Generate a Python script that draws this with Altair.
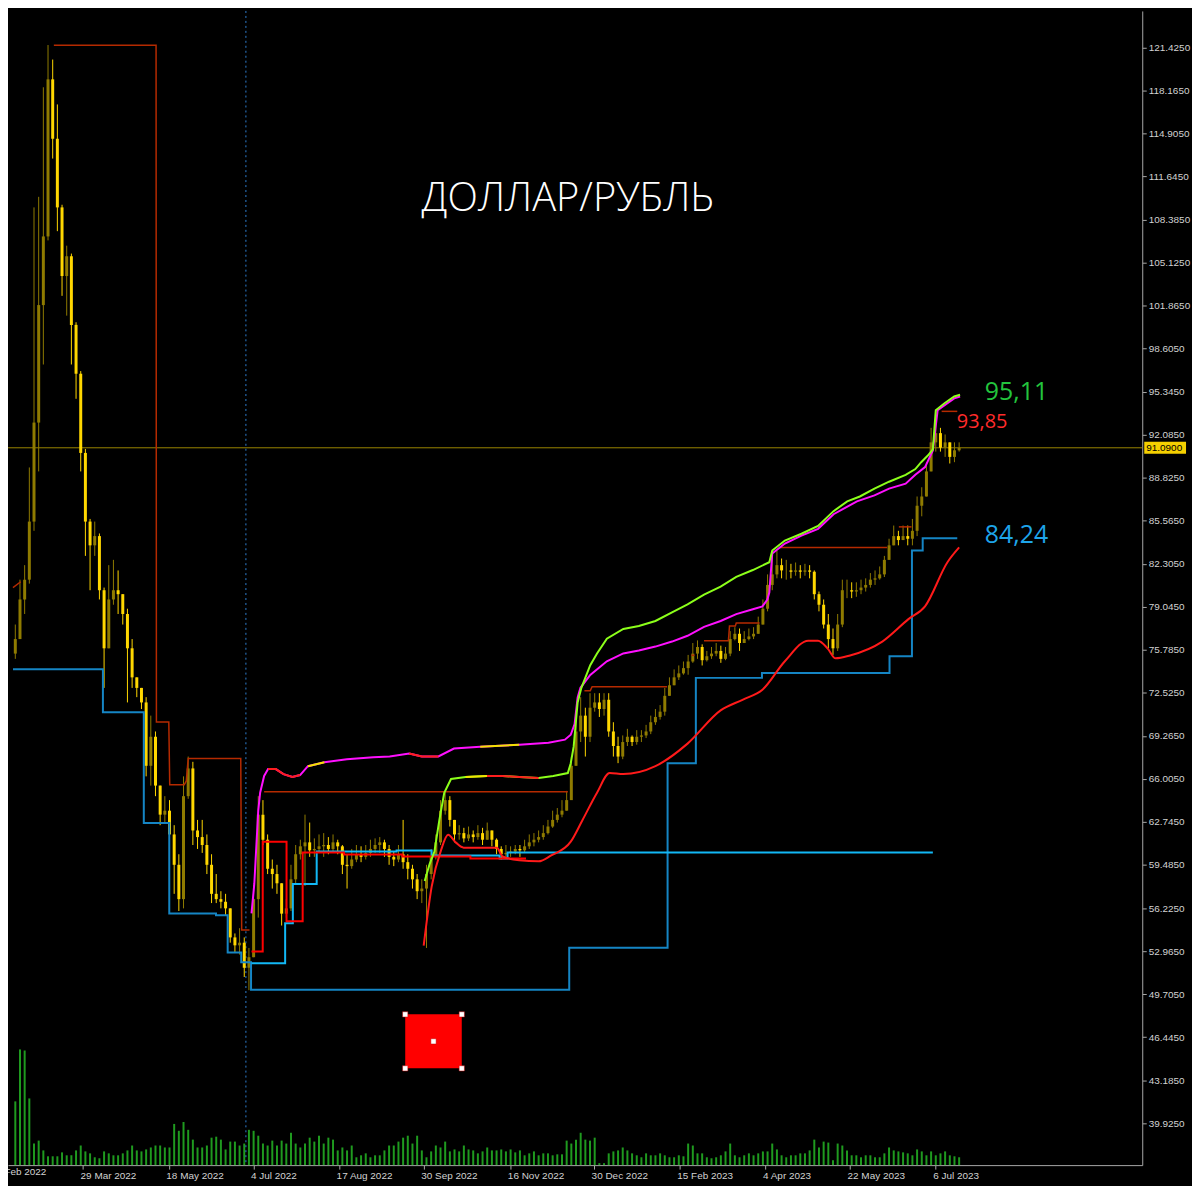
import json
import altair as alt
import pandas as pd

W, H = 1140, 1160

# ---------------- candles (one candle per two trading days) ----------------
first_open = 75.5
close = [76.6, 79.6, 81.1, 85.5, 93.0, 101.9, 107.1, 119.0, 114.5, 109.3,
         104.1, 105.6, 100.4, 96.7, 90.7, 85.5, 83.7, 84.4, 80.3, 75.9,
         79.6, 80.3, 80.0, 78.5, 75.9, 73.7, 72.9, 71.8, 67.0, 69.2,
         65.5, 63.3, 63.6, 61.8, 59.5, 56.9, 64.7, 66.8, 62.1, 61.6,
         61.0, 59.5, 57.3, 56.9, 56.7, 56.2, 54.0, 53.4, 53.6, 51.7,
         52.5, 56.9, 63.3, 61.4, 59.2, 58.8, 58.1, 55.8, 56.2, 58.4,
         60.3, 60.9, 61.2, 60.6, 60.7, 60.9, 61.0, 60.7, 61.2, 60.9,
         59.5, 59.4, 59.9, 60.3, 60.1, 60.4, 60.7, 61.0, 61.2, 60.7,
         60.1, 59.9, 60.3, 59.7, 59.2, 58.4, 57.5, 57.7, 58.8, 60.1,
         61.2, 63.6, 64.4, 62.9, 61.8, 61.9, 61.5, 61.8, 61.6, 61.9,
         61.4, 62.1, 61.4, 60.7, 60.3, 60.4, 60.5, 60.7, 60.6, 60.9,
         61.2, 61.4, 61.6, 61.9, 62.4, 62.9, 63.3, 63.6, 64.4, 67.0,
         69.6, 70.8, 69.2, 71.4, 71.8, 71.3, 72.0, 69.6, 68.5, 67.7,
         68.8, 69.2, 68.8, 69.2, 69.3, 69.6, 70.3, 70.7, 71.1, 72.3,
         73.1, 73.7, 74.0, 74.4, 74.9, 75.5, 76.0, 75.0, 75.3, 75.5,
         75.7, 75.1, 75.5, 76.6, 77.0, 76.3, 76.6, 76.8, 77.0, 77.7,
         78.9, 80.7, 81.5, 82.2, 81.8, 81.8, 81.7, 81.8, 81.7, 81.8,
         81.7, 80.0, 79.2, 77.7, 76.6, 75.9, 77.7, 80.3, 80.3, 80.2,
         80.3, 80.5, 80.7, 81.1, 81.2, 81.5, 82.6, 83.7, 84.4, 84.1,
         84.4, 84.2, 84.8, 86.7, 87.4, 89.3, 91.5, 92.2, 91.1, 91.5,
         90.4, 90.9, 91.09]
high = [77.7, 81.1, 82.2, 89.6, 109.3, 110.1, 118.4, 121.6, 120.5, 117.1,
        109.5, 106.4, 105.8, 100.6, 96.9, 91.0, 85.7, 85.5, 84.6, 80.5,
        82.2, 82.6, 81.8, 80.0, 78.9, 76.6, 73.7, 72.9, 72.2, 70.8,
        69.6, 65.5, 64.7, 64.4, 62.5, 60.3, 66.2, 67.7, 67.3, 62.9,
        62.9, 61.8, 60.3, 58.8, 57.5, 57.3, 56.2, 54.3, 54.7, 54.0,
        53.2, 58.0, 64.7, 64.4, 61.8, 59.9, 59.5, 58.1, 56.9, 59.5,
        61.0, 61.4, 63.3, 62.7, 61.5, 61.8, 61.9, 61.6, 61.8, 61.4,
        61.0, 60.3, 60.7, 61.0, 60.9, 61.0, 61.4, 61.5, 61.6, 61.4,
        61.0, 60.5, 61.0, 62.9, 60.3, 59.5, 58.8, 58.4, 59.5, 60.7,
        61.8, 64.4, 65.0, 64.7, 62.9, 62.5, 62.3, 62.4, 62.1, 62.5,
        62.3, 62.7, 62.1, 61.5, 60.9, 61.0, 60.9, 61.0, 61.0, 61.4,
        61.8, 61.9, 62.1, 62.5, 62.9, 63.6, 63.8, 64.4, 65.1, 67.7,
        71.1, 72.2, 71.4, 72.5, 72.5, 72.5, 72.5, 72.5, 70.3, 69.2,
        69.3, 69.8, 69.3, 69.7, 69.7, 70.1, 70.8, 71.3, 71.6, 72.9,
        73.7, 74.3, 74.6, 74.9, 75.4, 76.3, 76.5, 76.2, 75.7, 76.0,
        76.3, 76.1, 76.0, 77.2, 77.5, 77.4, 77.2, 77.4, 77.5, 78.3,
        79.6, 81.5, 82.9, 83.3, 82.7, 82.6, 82.3, 82.4, 82.2, 82.3,
        82.2, 81.8, 80.2, 79.6, 78.5, 77.4, 78.5, 81.1, 81.1, 80.9,
        80.9, 81.1, 81.2, 81.6, 81.8, 82.1, 82.9, 84.2, 85.2, 84.8,
        85.2, 85.2, 85.7, 87.4, 88.1, 90.0, 92.6, 93.9, 92.6, 92.1,
        91.5, 91.5, 91.5]
low = [75.1, 76.6, 78.5, 80.8, 84.8, 89.3, 97.4, 106.8, 113.0, 107.5,
       102.6, 101.1, 97.4, 94.8, 89.3, 82.9, 80.3, 82.9, 79.6, 72.9,
       75.9, 79.2, 78.5, 77.7, 71.8, 72.9, 72.2, 71.3, 66.2, 65.5,
       64.7, 62.5, 62.7, 61.2, 57.3, 56.0, 56.2, 64.5, 61.0, 60.7,
       60.4, 58.8, 56.6, 56.6, 56.2, 55.7, 53.6, 52.9, 52.7, 51.0,
       50.0, 52.5, 55.5, 61.0, 58.8, 57.7, 57.3, 54.9, 55.5, 56.0,
       58.1, 59.9, 57.9, 60.1, 60.1, 60.4, 60.1, 60.3, 60.4, 60.3,
       58.8, 57.7, 59.2, 59.7, 59.7, 59.9, 60.1, 60.4, 60.4, 60.1,
       59.5, 59.4, 59.7, 59.2, 58.4, 57.7, 56.9, 56.6, 53.2, 58.4,
       59.9, 61.0, 63.3, 62.4, 61.2, 61.4, 61.2, 61.3, 61.2, 61.4,
       61.0, 61.4, 60.9, 60.3, 59.9, 60.1, 60.1, 60.3, 60.1, 60.4,
       60.7, 60.9, 61.2, 61.4, 61.8, 62.3, 62.7, 63.1, 63.6, 64.7,
       67.0, 68.8, 67.7, 68.8, 71.1, 70.7, 70.8, 69.2, 67.7, 67.2,
       67.5, 68.5, 68.5, 68.6, 68.8, 69.1, 69.4, 70.1, 70.5, 70.8,
       72.3, 73.1, 73.5, 73.9, 73.9, 74.8, 75.1, 74.6, 74.9, 75.1,
       75.3, 74.8, 75.0, 75.3, 76.5, 75.7, 76.3, 76.5, 76.6, 77.0,
       77.7, 78.7, 80.3, 81.2, 81.2, 81.1, 81.2, 81.4, 81.2, 81.4,
       81.2, 79.6, 78.7, 77.4, 75.9, 75.4, 75.7, 77.5, 79.7, 79.7,
       79.8, 80.0, 80.2, 80.5, 80.7, 81.1, 81.3, 82.6, 83.7, 83.7,
       84.1, 83.7, 83.7, 84.4, 85.9, 87.4, 89.3, 90.8, 90.8, 90.4,
       89.9, 90.0, 90.8]
volume = [65, 118, 117, 68, 22, 25, 15, 9, 9, 9,
          13, 10, 10, 15, 20, 14, 12, 8, 7, 14,
          12, 10, 10, 12, 15, 20, 15, 14, 16, 18,
          20, 20, 18, 18, 42, 35, 44, 36, 26, 18,
          18, 20, 28, 29, 26, 16, 24, 24, 20, 22,
          36, 35, 30, 22, 20, 25, 20, 25, 22, 33,
          22, 18, 22, 28, 24, 30, 22, 28, 26, 15,
          18, 15, 20, 8, 10, 12, 8, 10, 10, 15,
          20, 20, 24, 28, 30, 22, 30, 15, 8, 14,
          20, 18, 24, 14, 16, 14, 20, 16, 15, 12,
          14, 18, 15, 15, 16, 14, 16, 13, 15, 10,
          12, 14, 10, 12, 12, 10, 11, 11, 25, 22,
          26, 33, 26, 25, 28, 2, 2, 12, 14, 15,
          18, 15, 12, 10, 8, 12, 10, 10, 12, 10,
          8, 8, 10, 9, 22, 20, 12, 12, 8, 7,
          8, 10, 14, 22, 10, 8, 10, 12, 10, 12,
          14, 14, 22, 16, 10, 8, 10, 10, 12, 12,
          15, 26, 18, 24, 23, 5, 22, 20, 15, 10,
          10, 8, 10, 10, 8, 8, 12, 18, 15, 14,
          13, 12, 10, 16, 14, 10, 14, 10, 12, 14,
          10, 9, 8]

# ---------------- axes ----------------
# the first date label belongs to a tick just left of the window; it is pinned to bar 0
# and shifted left so that only its tail shows, as in the screenshot
tick_bars = [0, 30.0, 66.7, 102.9, 139.6, 175.8, 212.9, 248.75, 285.4, 322.1, 358.3, 395.0]
tick_labels = ["10 Feb 2022", "29 Mar 2022", "18 May 2022", "4 Jul 2022", "17 Aug 2022",
               "30 Sep 2022", "16 Nov 2022", "30 Dec 2022", "15 Feb 2023", "4 Apr 2023",
               "22 May 2023", "6 Jul 2023"]
price_ticks = [39.925, 43.185, 46.445, 49.705, 52.965, 56.225, 59.485, 62.745, 66.005,
               69.265, 72.525, 75.785, 79.045, 82.305, 85.565, 88.825, 92.085, 95.345,
               98.605, 101.865, 105.125, 108.385, 111.645, 114.905, 118.165, 121.425]
last_price = 91.09
separator_bar = 99.7

# ---------------- indicators ----------------
blue_bar = [0, 38.5, 56.0, 66.9, 86.9, 91.9, 97.7, 101.9, 238.1, 280.2, 292.3, 320.6, 375.2, 384.8, 389.4, 404.2]
blue_val = [74.32, 71.06, 62.66, 55.82, 55.68, 52.85, 52.11, 50.03, 53.22, 67.19, 73.66, 74.03, 75.29, 83.31, 84.24, 84.24]

cyan_bar = [102.1, 116.5, 119.8, 130.0, 164.2, 179.2, 208.3, 211.7, 393.75]
cyan_val = [52.04, 55.08, 58.05, 60.50, 60.58, 60.21, 59.98, 60.43, 60.43]

red_step_bar = [102.1, 106.9, 117.1, 124.0, 141.7, 166.7, 195.8, 219.6]
red_step_val = [52.93, 61.25, 55.23, 60.43, 60.28, 60.13, 59.98, 59.98]

dr_seg = [1, 1, 2, 2, 2, 2, 2, 2, 2, 2, 2, 2, 2, 3, 3, 4, 4, 4, 4, 5, 5, 6, 6, 6, 6, 6, 6, 7, 7, 8, 8, 9, 9]
dr_bar = [0, 3.3, 17.5, 61.25, 61.4, 66.7, 67.1, 73.3, 74.2, 75.0, 97.5, 97.9, 101.25,
          107.5, 237.5, 244.6, 247.1, 247.9, 280.0, 290.4, 291.7, 295.8, 306.25, 306.7,
          309.2, 309.6, 319.6, 327.9, 374.2, 379.2, 384.6, 397.5, 404.2]
dr_val = [80.49, 80.94, 121.58, 121.58, 70.31, 70.31, 65.56, 65.56, 65.85, 67.56, 67.56,
          54.56, 54.56, 65.04, 65.04, 72.69, 72.69, 72.99, 72.99, 75.37, 75.37, 76.48,
          76.48, 77.59, 77.59, 77.82, 77.82, 83.54, 83.54, 85.10, 85.10, 93.85, 93.85]

red_curve_bar = [175.8, 179.2, 183.3, 186.25, 189.6, 192.9, 207.1, 209.6, 216.7, 225.0,
                 230.4, 238.75, 243.75, 250.0, 255.4, 261.25, 275.0, 288.75, 302.9, 312.5,
                 320.8, 330.4, 340.4, 344.6, 348.75, 352.1, 358.3, 372.1, 383.3, 390.4,
                 400.0, 405.0]
red_curve_val = [53.37, 57.83, 60.65, 61.77, 61.18, 60.80, 60.80, 60.13, 59.84, 59.76,
                 60.21, 61.25, 62.88, 64.96, 66.45, 66.37, 66.97, 68.68, 71.20, 72.02,
                 72.76, 74.92, 76.48, 76.48, 75.88, 75.14, 75.36, 76.41, 78.11, 79.08,
                 82.42, 83.54]

lime_bar = [176.25, 178.3, 180.4, 182.5, 184.6, 187.5, 193.75, 202.9, 209.6, 216.7,
            225.0, 231.25, 237.5, 238.75, 240.0, 241.7, 243.3, 247.1, 250.0, 254.2,
            261.25, 267.9, 275.0, 282.1, 288.75, 295.8, 302.9, 309.6, 316.7, 323.75,
            325.0, 330.4, 337.5, 344.6, 351.25, 357.1, 362.5, 368.75, 375.0, 382.1,
            386.25, 388.75, 391.7, 393.75, 395.0, 398.75, 402.9, 405.4]
lime_val = [58.28, 59.54, 60.50, 62.88, 64.96, 66.00, 66.15, 66.23, 66.23, 66.15,
            66.08, 66.23, 66.45, 67.19, 68.45, 71.80, 72.91, 74.62, 75.51, 76.63,
            77.37, 77.59, 77.97, 78.63, 79.23, 79.97, 80.57, 81.31, 81.83, 82.42,
            83.31, 84.06, 84.58, 85.17, 86.29, 87.03, 87.40, 88.00, 88.52, 89.04,
            89.48, 90.00, 90.52, 90.97, 93.94, 94.46, 94.98, 95.11]

magenta_bar = [102.1, 103.3, 104.2, 105.0, 105.8, 107.5, 109.2, 112.5, 115.8, 119.6,
               122.9, 126.25, 133.3, 142.9, 154.2, 161.25, 169.6, 175.0, 182.1, 188.75,
               200.0, 216.7, 229.2, 236.25, 238.75, 240.4, 241.7, 242.9, 247.1, 254.2,
               261.25, 267.9, 275.0, 282.1, 288.75, 295.8, 302.9, 309.6, 316.7, 320.8,
               322.9, 323.75, 325.0, 330.4, 337.5, 344.6, 351.25, 361.25, 368.75, 375.0,
               382.1, 386.25, 390.4, 393.75, 395.8, 400.0, 402.9, 405.4]
magenta_val = [55.82, 58.05, 61.02, 63.63, 64.96, 66.23, 66.75, 66.75, 66.37, 66.15,
               66.30, 66.97, 67.27, 67.49, 67.64, 67.71, 67.93, 67.71, 67.71, 68.31,
               68.45, 68.60, 68.75, 68.98, 69.35, 70.16, 72.17, 72.91, 73.88, 74.92,
               75.51, 75.74, 76.03, 76.41, 76.85, 77.52, 77.97, 78.49, 78.86, 79.08,
               79.60, 80.12, 83.09, 83.84, 84.43, 84.95, 86.06, 87.03, 87.48, 88.00,
               88.37, 89.04, 89.63, 90.89, 93.94, 94.46, 94.83, 94.98]

# recoloured stretches of the two bands
overlay_line = ["magenta", "magenta", "lime", "magenta", "magenta", "lime"]
overlay_from = [109.2, 169.6, 202.9, 126.25, 200.0, 193.75]
overlay_to = [122.9, 182.1, 225.0, 133.3, 216.7, 202.9]
overlay_color = ["#ff1e1e", "#ff1e1e", "#ff1e1e", "#f2e200", "#f2e200", "#f2e200"]

# drawn rectangle object
box_bar = [167.9, 192.1]
box_price = [44.08, 48.17]

# annotations
title_text = "ДОЛЛАР/РУБЛЬ"
title_bar = 237.5
title_price = 109.9
level_text = ["95,11", "93,85", "84,24"]
level_bar = [416.0, 404.0, 416.0]
level_price = [95.35, 93.05, 84.50]
level_color = ["#23c43d", "#ff2b2b", "#1ea5ea"]
level_size = [25, 20, 25]

# ---------------- frames ----------------
n = len(close)
bars = [1 + 2 * k for k in range(n)]
opens = [first_open] + close[:-1]
candles = pd.DataFrame({"bar": bars, "open": opens, "close": close, "high": high, "low": low})
candles["kind"] = ["bear" if c < o else "bull" for o, c in zip(opens, close)]
vol_df = pd.DataFrame({"bar": bars, "volume": volume})

series = {
    "magenta": pd.DataFrame({"bar": magenta_bar, "price": magenta_val}),
    "lime": pd.DataFrame({"bar": lime_bar, "price": lime_val}),
}
ov_parts = []
for j, (ln, a, b, col) in enumerate(zip(overlay_line, overlay_from, overlay_to, overlay_color)):
    d = series[ln]
    d = d[(d["bar"] >= a) & (d["bar"] <= b)].copy()
    d["ov"] = j
    d["col"] = col
    ov_parts.append(d)
ov_df = pd.concat(ov_parts, ignore_index=True)

dr_df = pd.DataFrame({"seg": dr_seg, "bar": dr_bar, "price": dr_val, "i": list(range(len(dr_bar)))})

handles = pd.DataFrame({
    "bar": [box_bar[0], box_bar[1], box_bar[0], box_bar[1], sum(box_bar) / 2],
    "price": [box_price[0], box_price[0], box_price[1], box_price[1], sum(box_price) / 2],
})

# ---------------- scales & axes ----------------
AXC = "#a8a8a8"
LBC = "#d2d2d2"
FONT = "Liberation Sans"
label_expr = f"{json.dumps(tick_labels)}[indexof({json.dumps(tick_bars)}, datum.value)]"

xs = alt.Scale(domain=[0, 481.25], nice=False, zero=False)
ys = alt.Scale(domain=[36.75, 124.18], nice=False, zero=False)
xaxis = alt.Axis(values=tick_bars, labelExpr=label_expr, title=None, grid=False, orient="bottom",
                 domainColor=AXC, tickColor=AXC, labelColor=LBC, labelFont=FONT, labelFontSize=10,
                 labelAlign="left",
                 labelOffset={"condition": {"test": "datum.value === 0", "value": -23}, "value": -3},
                 tickSize={"condition": {"test": "datum.value === 0", "value": 0}, "value": 4},
                 labelPadding=1, labelOverlap=False, labelFlush=False)
yaxis = alt.Axis(values=price_ticks, format=".4f", title=None, grid=False, orient="right",
                 domainColor=AXC, tickColor=AXC, labelColor=LBC, labelFont=FONT, labelFontSize=10,
                 labelPadding=2, tickSize=4, labelOverlap=False, labelFlush=False)


def X(f="bar"):
    return alt.X(f"{f}:Q", scale=xs, axis=xaxis)


def Y(f="price"):
    return alt.Y(f"{f}:Q", scale=ys, axis=yaxis)


# ---------------- layers ----------------
vol_layer = alt.Chart(vol_df).mark_bar(width=2, color="#1f9a1f").encode(
    x=X(), y=alt.Y("volume:Q", scale=alt.Scale(domain=[0, 1177], nice=False), axis=None))

sep = alt.Chart(pd.DataFrame({"bar": [separator_bar]})).mark_rule(
    color="#2f7fd0", strokeDash=[2, 3], strokeWidth=1).encode(x=X())

price_line = alt.Chart(pd.DataFrame({"price": [last_price]})).mark_rule(
    color="#9a8400", strokeWidth=1).encode(y=Y())

kind_color = alt.Color("kind:N", scale=alt.Scale(domain=["bear", "bull"], range=["#ffd700", "#8f7b00"]), legend=None)
wick = alt.Chart(candles).mark_rule(strokeWidth=1).encode(x=X(), y=Y("low"), y2="high", color=kind_color)
body = alt.Chart(candles).mark_bar(width=3).encode(x=X(), y=Y("open"), y2="close", color=kind_color)

dark_red = alt.Chart(dr_df).mark_line(color="#b52a00", strokeWidth=1.5).encode(
    x=X(), y=Y(), detail="seg:N", order="i:Q")
blue = alt.Chart(pd.DataFrame({"bar": blue_bar, "price": blue_val})).mark_line(
    color="#1585c4", strokeWidth=2, interpolate="step-after").encode(x=X(), y=Y())
cyan = alt.Chart(pd.DataFrame({"bar": cyan_bar, "price": cyan_val})).mark_line(
    color="#12b8f5", strokeWidth=2, interpolate="step-after").encode(x=X(), y=Y())
red_step = alt.Chart(pd.DataFrame({"bar": red_step_bar, "price": red_step_val})).mark_line(
    color="#ff0000", strokeWidth=2, interpolate="step-after").encode(x=X(), y=Y())
red_curve = alt.Chart(pd.DataFrame({"bar": red_curve_bar, "price": red_curve_val})).mark_line(
    color="#ff1a1a", strokeWidth=2, interpolate="monotone").encode(x=X(), y=Y())
magenta = alt.Chart(series["magenta"]).mark_line(color="#ff10ff", strokeWidth=2).encode(x=X(), y=Y())
lime = alt.Chart(series["lime"]).mark_line(color="#8cff1a", strokeWidth=2).encode(x=X(), y=Y())
overlays = alt.Chart(ov_df).mark_line(strokeWidth=2).encode(
    x=X(), y=Y(), detail="ov:N", color=alt.Color("col:N", scale=None))

box = alt.Chart(pd.DataFrame({"b0": [box_bar[0]], "b1": [box_bar[1]], "p0": [box_price[0]], "p1": [box_price[1]]})).mark_rect(
    color="#ff0000").encode(x=X("b0"), x2="b1", y=Y("p0"), y2="p1")
handle_marks = alt.Chart(handles).mark_square(size=28, color="#ffffff", opacity=1, stroke="#c00000", strokeWidth=0.5).encode(
    x=X(), y=Y())

title = alt.Chart(pd.DataFrame({"bar": [title_bar], "price": [title_price], "t": [title_text]})).mark_text(
    font="Open Sans", fontWeight=300, fontSize=40, color="#ffffff", align="center", baseline="middle").encode(
    x=X(), y=Y(), text="t:N")
levels = alt.Chart(pd.DataFrame({"bar": level_bar, "price": level_price, "t": level_text,
                                 "col": level_color, "fs": level_size})).mark_text(
    font="Open Sans", fontWeight=400, align="left", baseline="middle").encode(
    x=X(), y=Y(), text="t:N", color=alt.Color("col:N", scale=None), size=alt.Size("fs:Q", scale=None))

tag_df = pd.DataFrame({"price": [last_price], "lo": [last_price - 0.45], "hi": [last_price + 0.45],
                       "t": [f"{last_price:.4f}"]})
tag_box = alt.Chart(tag_df).mark_rect(color="#f5d000").encode(
    x=alt.value(W + 2), x2=alt.value(W + 44), y=Y("lo"), y2="hi")
tag_text = alt.Chart(tag_df).mark_text(font=FONT, fontSize=10, color="#000000", align="left", baseline="middle").encode(
    x=alt.value(W + 4), y=Y(), text="t:N")

price_layers = alt.layer(sep, price_line, wick, body, dark_red, blue, cyan, red_step, red_curve,
                         magenta, lime, overlays, box, handle_marks, title, levels, tag_box, tag_text)

chart = alt.layer(vol_layer, price_layers).resolve_scale(y="independent").properties(
    width=W, height=H, background="#000000",
    padding={"left": 0, "top": 0, "right": 50, "bottom": 18},
    autosize=alt.AutoSizeParams(type="none"),
).configure_view(strokeWidth=0)

chart.save("out.html", embed_options={"renderer": "svg", "actions": False})
